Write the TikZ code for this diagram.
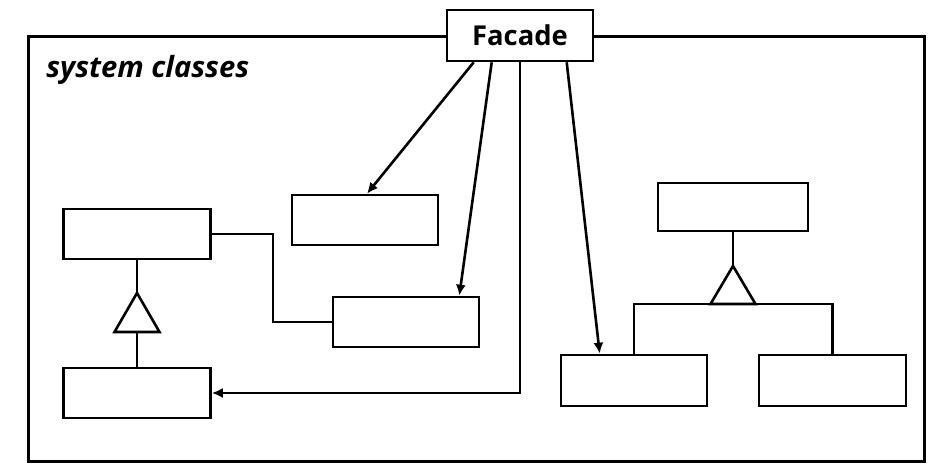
\documentclass[tikz,border=0pt]{standalone}
\usepackage{fontspec}
\setmainfont{Open Sans}
\usetikzlibrary{arrows.meta,calc}
\tikzset{
  cls/.style={draw,fill=white,inner sep=0pt,minimum width=73pt,minimum height=25pt},
  dep/.style={-{Latex[length=5.5pt,width=5pt]}},
  inh/.style={fill=white,line join=miter}
}
\begin{document}
\begin{tikzpicture}[x=.5pt,y=-.5pt,line width=1.3pt]
\path[use as bounding box] (0,0) rectangle (942,474);
\node[draw,inner sep=0pt,minimum width=448pt,minimum height=212.5pt,anchor=north west] (sys) at (27,35) {};
\node[anchor=west,inner sep=0pt,font=\fontsize{14.6}{17}\selectfont\bfseries\itshape] (syslbl) at (45,70) {system classes};
\node[cls,minimum height=25.5pt,font=\fontsize{13.7}{16}\selectfont\bfseries] (Facade) at (520,35.5) {Facade};
\node[cls,minimum width=73.5pt] (A) at (137,234) {};
\node[cls,minimum width=73.5pt] (B) at (137,393) {};
\node[cls] (C) at (365,220) {};
\node[cls] (D) at (406,322) {};
\node[cls,minimum width=75pt,minimum height=24pt] (E) at (733,207) {};
\node[cls,minimum height=25.5pt] (F) at (634,380.5) {};
\node[cls,minimum width=73.5pt,minimum height=25.5pt] (G) at (832.5,380.5) {};
\coordinate (tA) at (137,293);
\coordinate (tAb) at (137,332);
\coordinate (tE) at (733,266);
\coordinate (tEb) at (733,304);
\draw (A.south) -- (tA);
\draw (tAb) -- (B.north);
\draw[inh] (tA) -- ++(-22.5,39) -- ++(45,0) -- cycle;
\draw (E.south) -- (tE);
\draw (F.north) |- (tEb) -| (G.north);
\draw[inh] (tE) -- ++(-22.5,38) -- ++(45,0) -- cycle;
\draw (A.east) -- ++(61,0) |- (D.west);
\draw[dep] ($(Facade.south west)+(28,0)$) -- ($(C.north)+(2,0)$);
\draw[dep] ($(Facade.south west)+(46,0)$) -- ($(D.north east)+(-21,0)$);
\draw[dep] (Facade.south) |- (B.east);
\draw[dep] ($(Facade.south west)+(121,0)$) -- ($(F.north west)+(40,0)$);
\end{tikzpicture}
\end{document}
